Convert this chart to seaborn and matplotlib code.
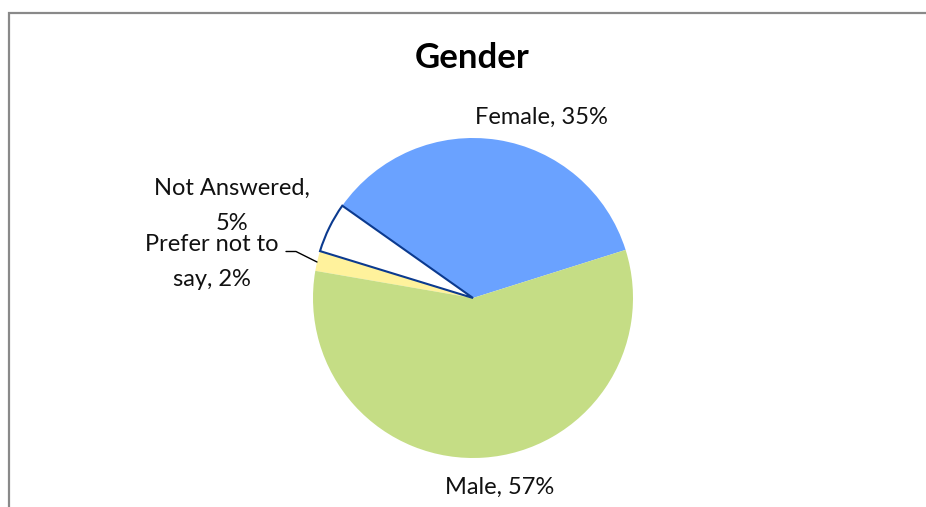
import matplotlib
matplotlib.use("Agg")
import matplotlib.pyplot as plt
import seaborn as sns
from matplotlib.patches import Rectangle

categories = ["Female", "Not Answered", "Prefer not to say", "Male"]
values = [35, 5, 2, 57]
label_texts = ["Female, 35%", "Not Answered,\n5%", "Prefer not to\nsay, 2%", "Male, 57%"]
colors = ["#6AA2FF", "#FFFFFF", "#FFF29C", "#C5DD85"]

sns.set_theme(style="white")
plt.rcParams['font.family'] = ['Lato', 'DejaVu Sans']

W, H = 926, 507
fig = plt.figure(figsize=(W / 100, H / 100), dpi=100)
fig.patch.set_facecolor("white")

# frame around chart area (extends beyond right/bottom)
fig.patches.append(Rectangle((9 / W, -0.1), 1.2, (H - 13) / H + 0.1, transform=fig.transFigure,
                             fill=False, edgecolor="#898989", linewidth=1.6))

cx, cy, r = 473, 298, 160
ax = fig.add_axes([(cx - r) / W, (H - cy - r) / H, 2 * r / W, 2 * r / H])
ax.axis("off")

wedges, _ = ax.pie(values, colors=colors, startangle=17.5, counterclock=True,
                   radius=1, center=(0, 0), frame=False)
ax.set_xlim(-1, 1)
ax.set_ylim(-1, 1)
ax.set_aspect("auto")
for w in wedges:
    w.set_linewidth(0)
wedges[1].set_edgecolor("#0B3A8F")
wedges[1].set_linewidth(1.5)
wedges[1].set_zorder(3)

def px(x, y):
    return (x - cx) / r, (cy - y) / r

label_pos = [px(541, 117), px(232, 206), px(212, 262), px(500, 487)]
for (lx, ly), t in zip(label_pos, label_texts):
    ax.text(lx, ly, t, ha="center", va="center", fontsize=17, color="#111111",
            linespacing=1.8, clip_on=False)

# leader line for "Prefer not to say"
p1, p2, p3 = px(286, 251.5), px(296, 251.5), px(317, 262)
ax.plot([p1[0], p2[0], p3[0]], [p1[1], p2[1], p3[1]], color="black", lw=1, clip_on=False)

fig.text(472 / W, 1 - 58 / H, "Gender", ha="center", va="center", fontsize=25,
         fontweight="bold", color="black")

fig.savefig("out.png", dpi=100)
